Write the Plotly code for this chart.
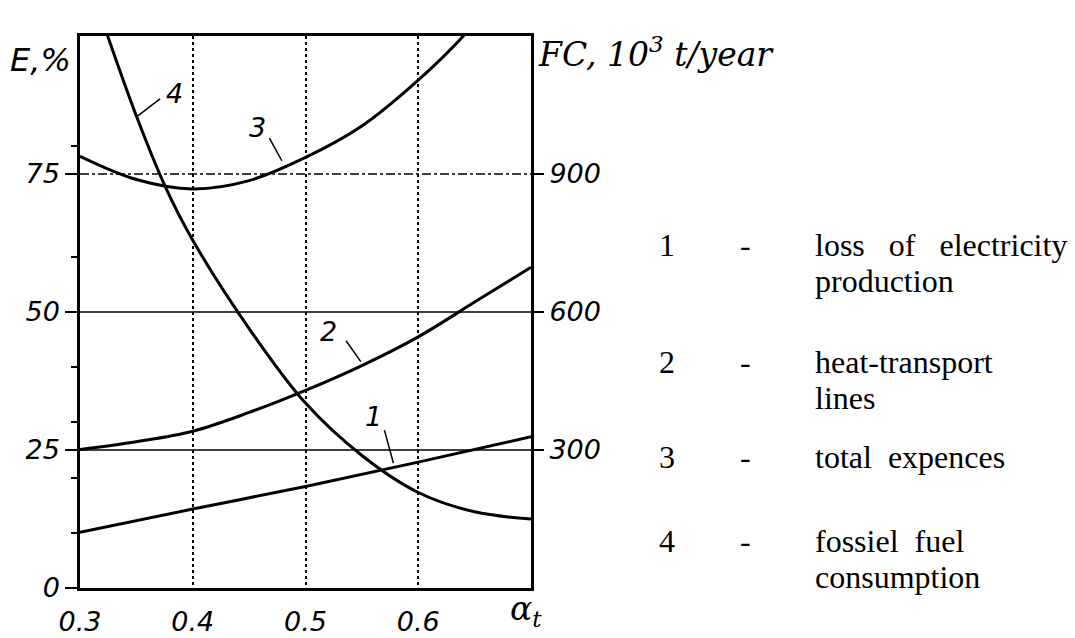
import plotly.graph_objects as go

# ---- data ----
x1 = [0.30, 0.40, 0.50, 0.60, 0.70]
e1 = [10.1, 14.3, 18.4, 22.8, 27.4]          # 1 loss of electricity production

x2 = [0.30, 0.35, 0.40, 0.45, 0.50, 0.55, 0.60, 0.65, 0.70]
e2 = [25.1, 26.5, 28.4, 31.8, 35.8, 40.3, 45.5, 51.8, 58.1]   # 2 heat-transport lines

x3 = [0.30, 0.35, 0.40, 0.45, 0.50, 0.55, 0.60, 0.64, 0.65]
e3 = [78.2, 74.0, 72.3, 73.8, 78.0, 83.7, 92.0, 100.0, 102.5]  # 3 total expences

x4 = [0.322, 0.35, 0.375, 0.40, 0.45, 0.50, 0.55, 0.60, 0.65, 0.70]
e4 = [101.5, 85.5, 73.0, 63.0, 47.0, 33.5, 24.0, 17.3, 13.8, 12.5]  # 4 fossiel fuel consumption

x_ticks = [0.3, 0.4, 0.5, 0.6]
x_ticklabels = ["0.3", "0.4", "0.5", "0.6"]
e_ticks = [0, 25, 50, 75]
fc_ticks = [300, 600, 900]

legend_nums = ["1", "2", "3", "4"]
legend_texts = [["loss\u00a0\u00a0\u00a0of\u00a0\u00a0\u00a0electricity", "production"],
                ["heat-transport", "lines"],
                ["total\u00a0\u00a0expences"],
                ["fossiel\u00a0\u00a0fuel", "consumption"]]

# ---- layout constants ----
W, H = 1075, 638
ML, MR, MT, MB = 80, 544, 36, 50
PW, PH = W - ML - MR, H - MT - MB

def px(xp):
    return (xp - ML) / PW

def py(yp):
    return (H - MB - yp) / PH

hand = dict(family="DejaVu Sans", size=27, color="black", style="italic")
serif = dict(family="Liberation Serif", size=32, color="black")

fig = go.Figure()
for xs, es in [(x1, e1), (x2, e2), (x3, e3), (x4, e4)]:
    fig.add_trace(go.Scatter(x=xs, y=es, mode="lines",
                             line=dict(color="black", width=3, shape="spline", smoothing=1.0),
                             showlegend=False, hoverinfo="skip"))
# invisible trace for right axis
fig.add_trace(go.Scatter(x=[0.3], y=[0], yaxis="y2", mode="markers",
                         marker=dict(opacity=0), showlegend=False, hoverinfo="skip"))

# horizontal grid lines
for val, dash in [(25, "solid"), (50, "solid"), (75, "dashdot")]:
    fig.add_shape(type="line", xref="x", yref="y", x0=0.3, x1=0.7, y0=val, y1=val,
                  line=dict(color="black", width=1.5, dash=dash), layer="below")

# curve labels with leader lines
labels = [("4", 0.384, 89.5, 0.351, 85.5, 0.371, 88.6),
          ("3", 0.457, 83.5, 0.468, 81.5, 0.479, 77.4),
          ("2", 0.520, 46.5, 0.536, 44.8, 0.549, 41.0),
          ("1", 0.560, 31.0, 0.570, 28.6, 0.578, 22.6)]
for t, lx, ly, ax0, ay0, ax1, ay1 in labels:
    fig.add_annotation(x=lx, y=ly, text=t, showarrow=False, font=dict(hand, size=27))
    fig.add_shape(type="line", xref="x", yref="y", x0=ax0, y0=ay0,
                  x1=ax1, y1=ay1, line=dict(color="black", width=1.5))

# axis titles
fig.add_annotation(xref="paper", yref="paper", x=px(8), y=py(60), xanchor="left", yanchor="middle",
                   text="E,%", showarrow=False, font=dict(hand, size=32))
fig.add_annotation(xref="paper", yref="paper", x=px(536), y=py(52), xanchor="left", yanchor="middle",
                   text="FC, 10<sup>3</sup> t/year", showarrow=False,
                   font=dict(family="DejaVu Serif", size=33, color="black", style="italic"))
fig.add_annotation(xref="paper", yref="paper", x=px(508), y=py(610), xanchor="left", yanchor="middle",
                   text="α<sub>t</sub>", showarrow=False,
                   font=dict(family="DejaVu Serif", size=33, color="black", style="italic"))

# legend text block
rows_y = [245, 362, 457, 541]
for n, lines, yc in zip(legend_nums, legend_texts, rows_y):
    fig.add_annotation(xref="paper", yref="paper", x=px(667), y=py(yc), text=n,
                       showarrow=False, font=serif, xanchor="center", yanchor="middle")
    fig.add_annotation(xref="paper", yref="paper", x=px(745), y=py(yc), text="-",
                       showarrow=False, font=serif, xanchor="center", yanchor="middle")
    for i, ln in enumerate(lines):
        fig.add_annotation(xref="paper", yref="paper", x=px(813), y=py(yc + 36 * i), text=ln,
                           showarrow=False, font=serif, xanchor="left", yanchor="middle")

fig.update_layout(
    width=W, height=H, margin=dict(l=ML, r=MR, t=MT, b=MB, autoexpand=False),
    paper_bgcolor="white", plot_bgcolor="white",
    xaxis=dict(range=[0.3, 0.7], tickvals=x_ticks, ticktext=x_ticklabels,
               showgrid=True, gridcolor="black", gridwidth=1.5, griddash="dot",
               showline=True, linecolor="black", linewidth=2.5, mirror=True, automargin=False,
               ticks="", ticklabelstandoff=8, tickfont=hand, zeroline=False),
    yaxis=dict(range=[0, 100], tickvals=e_ticks, showgrid=False, automargin=False,
               showline=True, linecolor="black", linewidth=2.5, mirror=True,
               ticks="outside", ticklen=12, tickwidth=1.5, tickcolor="black",
               minor=dict(tickvals=[10, 20, 30, 40, 60, 80], ticks="outside", ticklen=6,
                          tickcolor="black", tickwidth=1.5),
               tickfont=hand, zeroline=False),
    yaxis2=dict(range=[0, 1200], tickvals=fc_ticks, overlaying="y", side="right",
                showgrid=False, showline=False, ticks="outside", ticklen=12, tickwidth=1.5,
                automargin=False, tickcolor="black", tickfont=hand, zeroline=False),
)

fig.write_html("out.html")
